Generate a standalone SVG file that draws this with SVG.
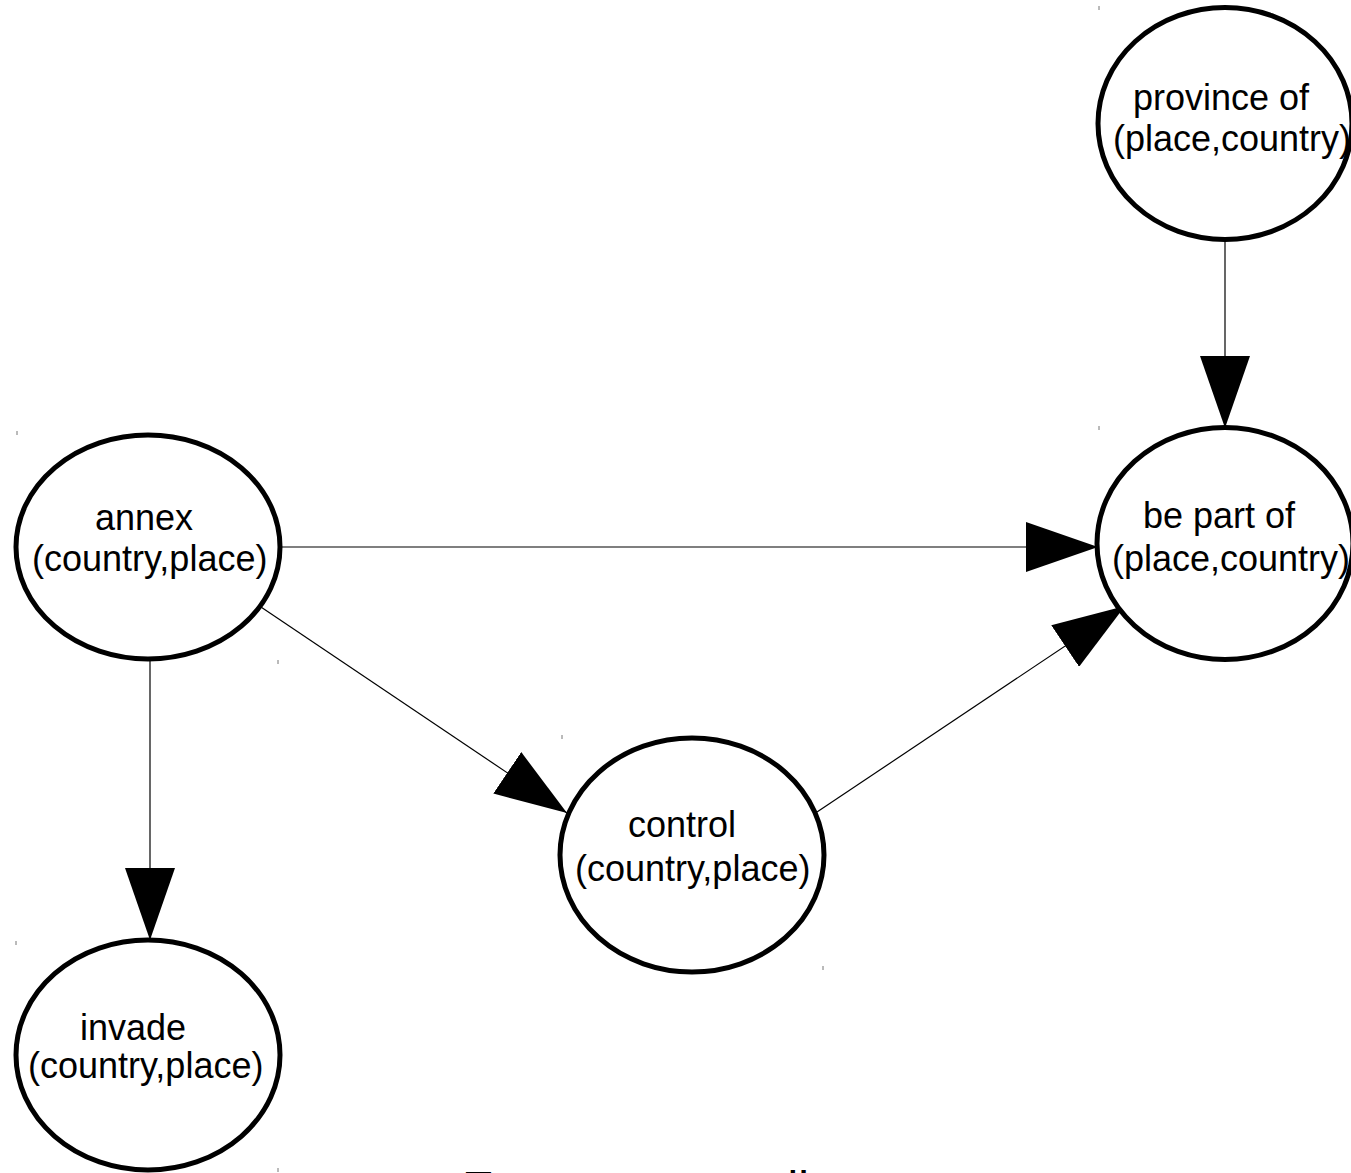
<svg xmlns="http://www.w3.org/2000/svg" width="1351" height="1173" viewBox="0 0 1351 1173">
<defs>
<style>
.node ellipse{fill:#fff;stroke:#000;stroke-width:5}
.node text,.caption{font-family:"Liberation Sans",Arial,sans-serif;font-size:36px;fill:#000}
.caption{font-size:48px}
.edge{stroke:#000;stroke-width:1.2;fill:none;marker-end:url(#arr)}
.tick{stroke:#777;stroke-width:1}
</style>
<marker id="arr" markerUnits="userSpaceOnUse" markerWidth="74" markerHeight="50" refX="72" refY="25" orient="auto">
<path d="M0,0 L72,25 L0,50 z" fill="#000"/>
</marker>
</defs>
<rect width="1351" height="1173" fill="#fff"/>
<g id="connectors">
<line class="edge" x1="1225" y1="240" x2="1225" y2="428"/>
<line class="edge" x1="280" y1="547" x2="1098" y2="547"/>
<line class="edge" x1="817" y1="812" x2="1125" y2="606"/>
<line class="edge" x1="255" y1="603" x2="567" y2="813"/>
<line class="edge" x1="150" y1="659" x2="150" y2="940"/>
</g>
<g id="province_of" class="node">
<ellipse cx="1225" cy="123.5" rx="127" ry="116"/>
<text x="1133" y="110">province of</text>
<text x="1113" y="151">(place,country)</text>
</g>
<g id="be_part_of" class="node">
<ellipse cx="1225" cy="543.5" rx="128" ry="116"/>
<text x="1143" y="528">be part of</text>
<text x="1112" y="571">(place,country)</text>
</g>
<g id="annex" class="node">
<ellipse cx="148" cy="547" rx="132" ry="112"/>
<text x="95" y="530">annex</text>
<text x="32" y="571">(country,place)</text>
</g>
<g id="control" class="node">
<ellipse cx="692" cy="855" rx="132" ry="117"/>
<text x="628" y="837">control</text>
<text x="575" y="881">(country,place)</text>
</g>
<g id="invade" class="node">
<ellipse cx="148" cy="1055" rx="132" ry="115"/>
<text x="80" y="1040">invade</text>
<text x="28" y="1078">(country,place)</text>
</g>
<g id="ticks">
<line class="tick" x1="17" y1="431" x2="17" y2="435"/>
<line class="tick" x1="278" y1="660" x2="278" y2="664"/>
<line class="tick" x1="562" y1="735" x2="562" y2="739"/>
<line class="tick" x1="823" y1="966" x2="823" y2="970"/>
<line class="tick" x1="1099" y1="6" x2="1099" y2="10"/>
<line class="tick" x1="1099" y1="426" x2="1099" y2="430"/>
<line class="tick" x1="16" y1="941" x2="16" y2="945"/>
<line class="tick" x1="278" y1="1168" x2="278" y2="1172"/>
</g>
<text class="caption" x="462" y="1205">Event or mentally out</text>
</svg>
